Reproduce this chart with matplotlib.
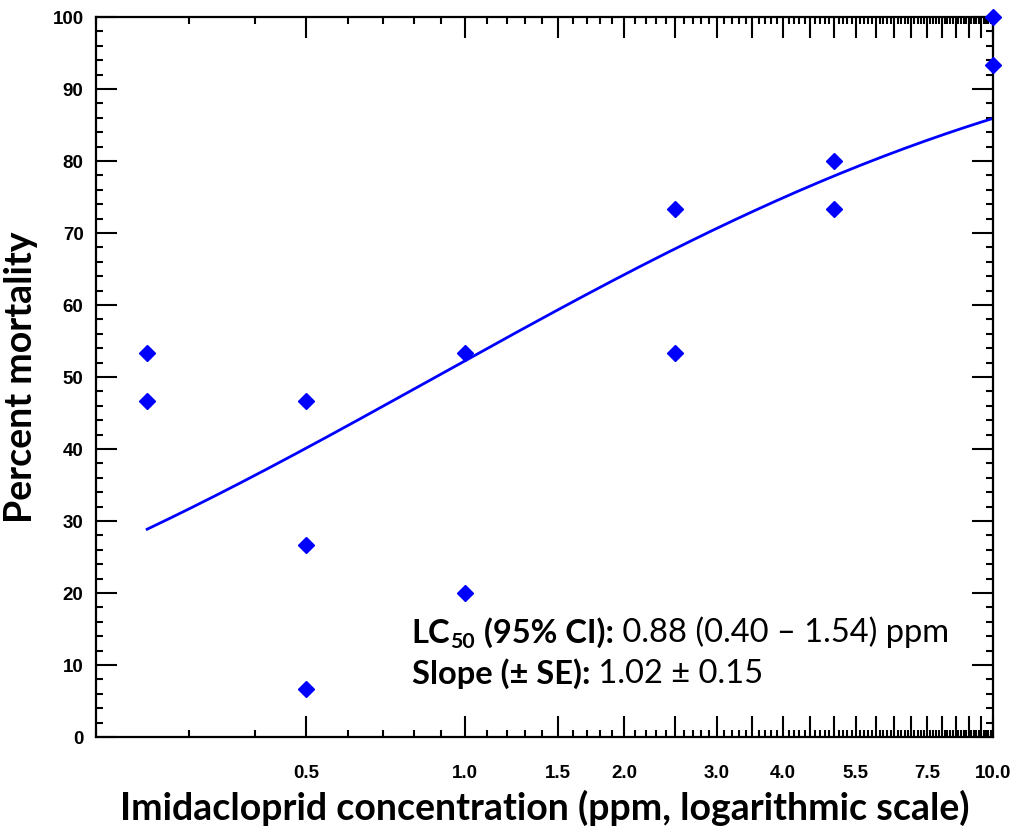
import math
import numpy as np
import matplotlib
matplotlib.use("Agg")
import matplotlib.pyplot as plt
from matplotlib.ticker import FixedLocator, FixedFormatter

# ---- data ----
conc = [0.25, 0.25, 0.5, 0.5, 0.5, 1.0, 1.0, 2.5, 2.5, 5.0, 5.0, 10.0, 10.0]
mortality = [53.3, 46.7, 46.7, 26.7, 6.7, 53.3, 20.0, 73.3, 53.3, 80.0, 73.3, 100.0, 93.3]
lc50 = 0.88
slope = 1.02
fit_range = [0.25, 10.0]
xtick_labels = ["0.5", "1.0", "1.5", "2.0", "3.0", "4.0", "5.5", "7.5", "10.0"]
xtick_label_values = [0.5, 1.0, 1.5, 2.0, 3.0, 4.0, 5.5, 7.5, 10.0]

fig = plt.figure(figsize=(10.19, 8.39), dpi=100)
ax = fig.add_axes([96/1019, 1-737/839, (993-96)/1019, (737-17)/839])

# probit fit curve
xf = np.logspace(np.log10(fit_range[0]), np.log10(fit_range[1]), 200)
yf = [100*0.5*(1+math.erf(slope*math.log10(v/lc50)/math.sqrt(2))) for v in xf]
ax.plot(xf, yf, color='#0000FF', lw=2)
ax.plot(conc, mortality, linestyle='none', marker='D', color='#0000FF',
        markersize=8.5, clip_on=False, zorder=5)

ax.set_xscale('log')
ax.set_xlim(0.2, 10.0)
ax.set_ylim(0, 100)

# ticks
major_x = list(np.round(np.arange(0.5, 10.001, 0.5), 2))
minor_x = [v for v in np.round(np.arange(0.2, 10.001, 0.1), 2) if not any(abs(v-m) < 1e-6 for m in major_x)]
ax.xaxis.set_major_locator(FixedLocator(major_x))
lab = []
for m in major_x:
    s = ''
    for v, t in zip(xtick_label_values, xtick_labels):
        if abs(v-m) < 1e-6:
            s = t
    lab.append(s)
ax.xaxis.set_major_formatter(FixedFormatter(lab))
ax.xaxis.set_minor_locator(FixedLocator(minor_x))
ax.xaxis.set_minor_formatter(FixedFormatter([''] * len(minor_x)))

ax.yaxis.set_major_locator(FixedLocator(list(range(0, 101, 10))))
ax.yaxis.set_minor_locator(FixedLocator(list(range(0, 101, 2))))

ax.tick_params(which='both', direction='in', top=True, right=True, width=1.5, color='black')
ax.tick_params(which='major', length=15)
ax.tick_params(which='minor', length=5)
ax.tick_params(axis='x', which='major', pad=20)
ax.tick_params(axis='y', which='major', pad=9)
for lbl in ax.get_xticklabels() + ax.get_yticklabels():
    lbl.set_fontfamily('Liberation Sans')
    lbl.set_fontweight('bold')
    lbl.set_fontsize(13.5)

for sp in ax.spines.values():
    sp.set_linewidth(1.6)

ax.set_xlabel('Imidacloprid concentration (ppm, logarithmic scale)',
              fontfamily='Lato', fontweight='bold', fontsize=27, labelpad=6)
ax.set_ylabel('Percent mortality', fontfamily='Lato', fontweight='bold',
              fontsize=27, labelpad=10)

# annotation built from pieces
fs = 23.5
t1 = ax.text(0.352, 0.124, 'LC', transform=ax.transAxes, fontfamily='Lato',
             fontweight='bold', fontsize=fs, va='bottom', ha='left')
t2 = ax.annotate('50', xy=(1, 0), xycoords=t1, xytext=(0, -3), textcoords='offset points',
                 fontfamily='Lato', fontweight='bold', fontsize=fs*0.65, va='bottom', ha='left')
t3 = ax.annotate(' (95% CI):', xy=(1, 0), xycoords=(t2, t1), xytext=(0.5, 0),
                 textcoords='offset points', fontfamily='Lato', fontweight='bold',
                 fontsize=fs, va='bottom', ha='left')
t4 = ax.annotate(' 0.88 (0.40 – 1.54) ppm', xy=(1, 0), xycoords=t3, fontfamily='Lato',
                 fontsize=fs, va='bottom', ha='left')
s1 = ax.text(0.352, 0.066, 'Slope (± SE):', transform=ax.transAxes, fontfamily='Lato',
             fontweight='bold', fontsize=fs, va='bottom', ha='left')
s2 = ax.annotate(' 1.02 ± 0.15', xy=(1, 0), xycoords=s1, fontfamily='Lato',
                 fontsize=fs, va='bottom', ha='left')

fig.savefig('out.png', dpi=100)
